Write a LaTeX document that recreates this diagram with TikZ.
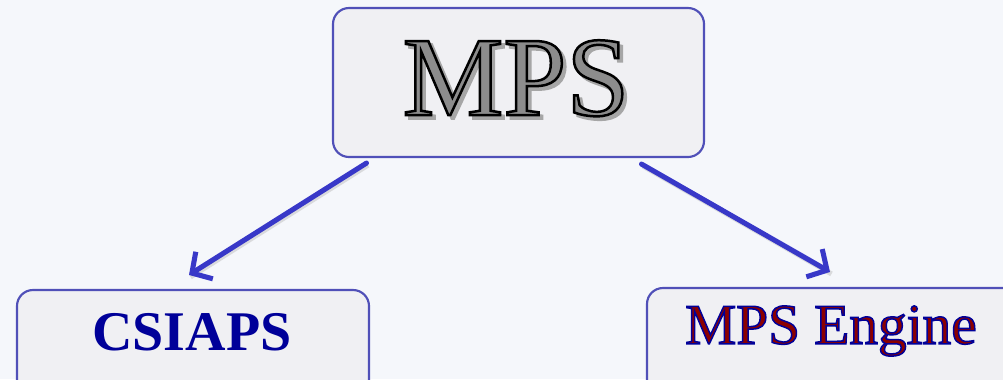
\documentclass[tikz,border=0pt]{standalone}
\usepackage{fontspec}
\setmainfont{Liberation Serif}
\newfontfamily\outlinefont[FakeBold=2.2]{Liberation Serif}
\newfontfamily\outlinethin[FakeBold=2.6]{Liberation Serif}
\usetikzlibrary{arrows.meta,calc}
\definecolor{bgc}{HTML}{F5F7FB}
\definecolor{boxfill}{HTML}{F0F0F3}
\definecolor{boxline}{HTML}{5050B8}
\definecolor{arrc}{HTML}{3838C8}
\definecolor{navy}{HTML}{000099}
\definecolor{dred}{HTML}{8B0000}
\tikzset{
  box/.style={draw=boxline, line width=1.6pt, fill=boxfill, rounded corners=12pt, inner sep=0pt},
  bigfont/.style={font=\fontsize{85}{90}\outlinefont, inner sep=0pt},
  midfont/.style={font=\fontsize{42}{46}\selectfont\bfseries, inner sep=0pt},
  engfont/.style={font=\fontsize{43}{48}\outlinethin, inner sep=0pt},
  conn/.style={arrc, line width=3.8pt, -{Straight Barb[length=11pt,width=24pt,line width=3.8pt]}, line cap=round}
}
\begin{document}
\begin{tikzpicture}[x=0.75pt,y=-0.75pt]
\fill[bgc] (0,0) rectangle (1003,379);
\useasboundingbox (0,0) rectangle (1003,379);
\clip (0,0) rectangle (1003,379);
% boxes
\node[box, minimum width=371*0.75pt, minimum height=149*0.75pt] (mps) at (518.5,82.5) {};
\node[box, minimum width=352*0.75pt, minimum height=110*0.75pt] (csiaps) at (193,345) {};
\node[box, minimum width=420*0.75pt, minimum height=110*0.75pt] (engine) at (857,343) {};
% MPS text: outlined grey with soft shadow
\node[bigfont, text=black] (mpstxt) at (516,80) {\makebox[0pt][l]{\kern2.6pt\raisebox{-2.6pt}{\color{black!35}MPS}}\special{pdf:literal direct 0.55 g}MPS};
% CSIAPS
\node[midfont, text=navy] (csiapstxt) at (192,332) {CSIAPS};
% MPS Engine: blue outline, dark red fill
\node[engfont, text=navy] (enginetxt) at (831,331) {\special{pdf:literal direct 0.545 0 0 rg}MPS Engine};
% connectors
\coordinate (s1) at ($(mps.south)+(-152,5)$);
\coordinate (e1) at ($(csiaps.north)+(-4,-14)$);
\coordinate (s2) at ($(mps.south)+(123,6)$);
\coordinate (e2) at ($(engine.north)+(-27,-15)$);
\draw[black!25, line width=3.8pt, opacity=0.5] ($(s1)+(1.5,2)$) -- ($(e1)+(1.5,2)$);
\draw[black!25, line width=3.8pt, opacity=0.5] ($(s2)+(1.5,2)$) -- ($(e2)+(1.5,2)$);
\draw[conn] (s1) -- (e1);
\draw[conn] (s2) -- (e2);
\end{tikzpicture}
\end{document}
